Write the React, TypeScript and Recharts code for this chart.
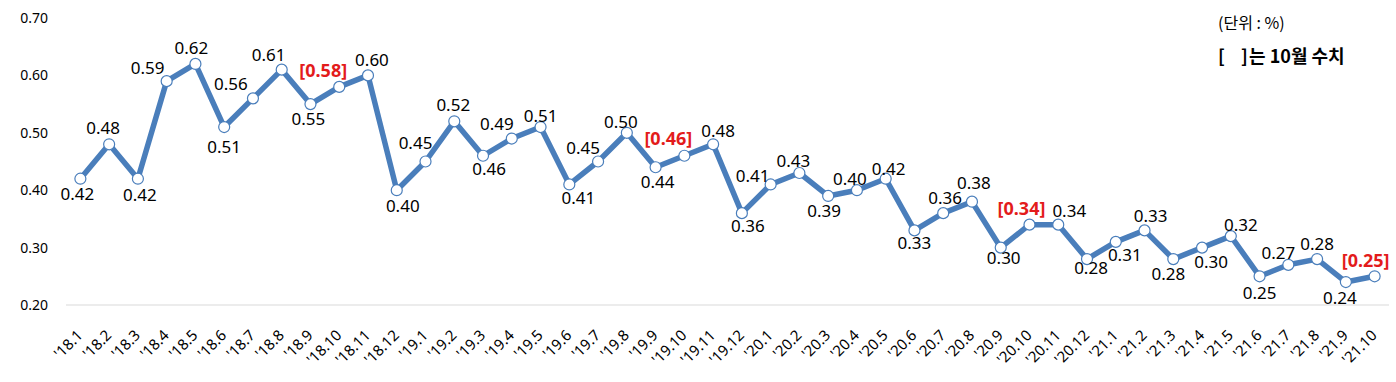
import { LineChart, Line, XAxis, YAxis } from "recharts";

const months = [
  "'18.1", "'18.2", "'18.3", "'18.4", "'18.5", "'18.6", "'18.7", "'18.8", "'18.9", "'18.10", "'18.11", "'18.12",
  "'19.1", "'19.2", "'19.3", "'19.4", "'19.5", "'19.6", "'19.7", "'19.8", "'19.9", "'19.10", "'19.11", "'19.12",
  "'20.1", "'20.2", "'20.3", "'20.4", "'20.5", "'20.6", "'20.7", "'20.8", "'20.9", "'20.10", "'20.11", "'20.12",
  "'21.1", "'21.2", "'21.3", "'21.4", "'21.5", "'21.6", "'21.7", "'21.8", "'21.9", "'21.10",
];

const rates = [
  0.42, 0.48, 0.42, 0.59, 0.62, 0.51, 0.56, 0.61, 0.55, 0.58, 0.6, 0.4,
  0.45, 0.52, 0.46, 0.49, 0.51, 0.41, 0.45, 0.5, 0.44, 0.46, 0.48, 0.36,
  0.41, 0.43, 0.39, 0.4, 0.42, 0.33, 0.36, 0.38, 0.3, 0.34, 0.34, 0.28,
  0.31, 0.33, 0.28, 0.3, 0.32, 0.25, 0.27, 0.28, 0.24, 0.25,
];

const yTicks = [0.2, 0.3, 0.4, 0.5, 0.6, 0.7];

// where each value label sits relative to its marker [dx, dy]
const labelOffset: Record<string, [number, number]> = {
  "'18.1": [-3, 15], "'18.2": [-6, -17], "'18.3": [2, 16], "'18.4": [-19, -14],
  "'18.5": [-4, -16], "'18.6": [0, 19], "'18.7": [-22, -15], "'18.8": [-13, -15],
  "'18.9": [-2, 14], "'18.10": [-16, -17], "'18.11": [4, -16], "'18.12": [6, 15],
  "'19.1": [-10, -19], "'19.2": [-1, -17], "'19.3": [6, 13], "'19.4": [-15, -15],
  "'19.5": [0, -12], "'19.6": [9, 13], "'19.7": [-15, -14], "'19.8": [-6, -11],
  "'19.9": [2, 14], "'19.10": [-16, -18], "'19.11": [5, -14], "'19.12": [6, 12],
  "'20.1": [-18, -9], "'20.2": [-6, -12], "'20.3": [-4, 15], "'20.4": [-7, -12],
  "'20.5": [3, -10], "'20.6": [0, 12], "'20.7": [2, -16], "'20.8": [2, -19],
  "'20.9": [3, 10], "'20.10": [-8, -17], "'20.11": [11, -14], "'20.12": [4, 8],
  "'21.1": [9, 13], "'21.2": [6, -15], "'21.3": [-5, 14], "'21.4": [9, 14],
  "'21.5": [10, -12], "'21.6": [0, 16], "'21.7": [-10, -12], "'21.8": [0, -16],
  "'21.9": [-6, 15], "'21.10": [-9, -16],
};

const data = months.map((m, i) => ({ month: m, rate: rates[i] }));

const BLUE = "#4a7ebb";
const NUM_FONT = "'Noto Sans', sans-serif";
const KR_FONT = "'Noto Sans CJK KR', 'Noto Sans', sans-serif";

function ValueLabel(props: any) {
  const { x, y, index } = props;
  const m = months[index];
  const v = rates[index];
  const oct = m.endsWith(".10");
  const [dx, dy] = labelOffset[m] ?? [0, -16];
  return (
    <text
      x={x + dx}
      y={y + dy}
      textAnchor="middle"
      dominantBaseline="central"
      fontSize={oct ? 18 : 17}
      fontFamily={NUM_FONT}
      fontWeight={oct ? 700 : 400}
      fill={oct ? "#e31b1b" : "#000"}
    >
      {oct ? `[${v.toFixed(2)}]` : v.toFixed(2)}
    </text>
  );
}

function MonthTick(props: any) {
  const { x, y, payload } = props;
  return (
    <g transform={`translate(${x - 1},${y + 19})`}>
      <text
        transform="rotate(-45)"
        textAnchor="end"
        dominantBaseline="central"
        fontSize={15}
        fontFamily={NUM_FONT}
        fill="#000"
      >
        {payload.value}
      </text>
    </g>
  );
}

export default function App() {
  return (
    <div style={{ position: "absolute", left: 0, top: 0, width: 1396, height: 382, background: "#fff" }}>
      <LineChart width={1396} height={382} data={data} margin={{ top: 18, right: 7, bottom: 7, left: 10 }}>
        <XAxis
          dataKey="month"
          scale="band"
          interval={0}
          tickLine={false}
          axisLine={{ stroke: "#d9d9d9" }}
          height={70}
          tick={<MonthTick />}
        />
        <YAxis
          domain={[0.2, 0.7]}
          ticks={yTicks}
          width={56}
          axisLine={false}
          tickLine={false}
          tickMargin={12}
          tickFormatter={(v: number) => v.toFixed(2)}
          tick={{ fontSize: 14, fill: "#000", fontFamily: NUM_FONT }}
        />
        <Line
          dataKey="rate"
          stroke={BLUE}
          strokeWidth={5.5}
          strokeLinejoin="round"
          isAnimationActive={false}
          dot={{ r: 5.5, fill: "#fff", stroke: BLUE, strokeWidth: 1.2 }}
          label={<ValueLabel />}
        />
      </LineChart>
      <div style={{ position: "absolute", left: 1218, top: 10, fontSize: 16, fontFamily: KR_FONT, color: "#000" }}>
        (단위 : %)
      </div>
      <div style={{ position: "absolute", left: 1218, top: 42, fontSize: 18, fontWeight: 700, fontFamily: KR_FONT, color: "#000" }}>
        <span>[</span>
        <span style={{ position: "absolute", left: 23 }}>]</span>
        <span style={{ position: "absolute", left: 31, whiteSpace: "nowrap" }}>는 10월 수치</span>
      </div>
    </div>
  );
}
